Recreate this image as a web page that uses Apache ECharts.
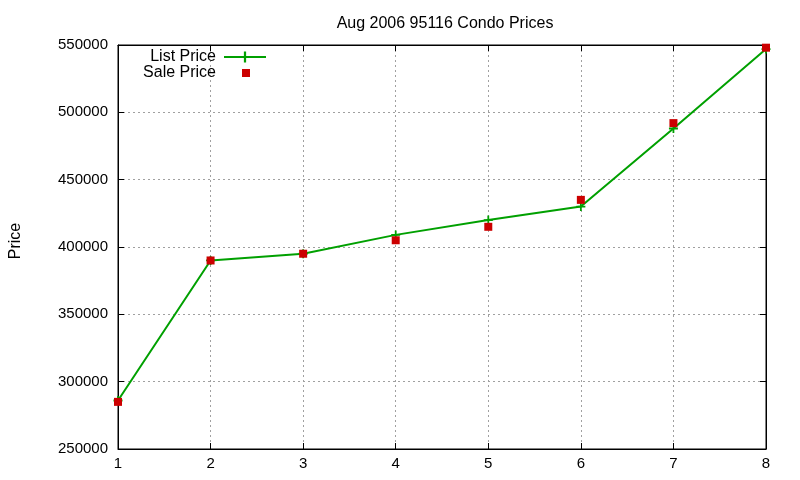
<!DOCTYPE html>
<html>
<head>
<meta charset="utf-8">
<script src="https://cdn.jsdelivr.net/npm/echarts@6/dist/echarts.min.js"></script>
<style>
html, body { margin: 0; padding: 0; background: #fff; }
#chart { width: 800px; height: 480px; }
</style>
</head>
<body>
<div id="chart"></div>
<script>
var months = [1, 2, 3, 4, 5, 6, 7, 8];
var listPrice = [286000, 390000, 395000, 409000, 420000, 430000, 488000, 547000];
var salePrice = [285000, 390000, 395000, 405000, 415000, 435000, 492000, 548000];
var yTicks = { min: 250000, max: 550000, step: 50000 };

var font = 'Liberation Sans, Arial, sans-serif';
var green = '#00a000';
var red = '#cc0000';
var plus = 'path://M4,0H6V4H10V6H6V10H4V6H0V4H4Z';

function pairs(xs, ys) {
    return xs.map(function (x, i) { return [x, ys[i]]; });
}

var myChart = echarts.init(document.getElementById('chart'));

var gridLine = { show: true, lineStyle: { color: '#a0a0a0', type: [2, 3], width: 1 } };
var tickIn = { show: true, inside: true, length: 6, lineStyle: { color: '#000' } };

var option = {
    backgroundColor: '#fff',
    animation: false,
    title: {
        text: 'Aug 2006 95116 Condo Prices',
        left: 440,
        top: 11,
        textAlign: 'center',
        textStyle: { fontFamily: font, fontSize: 16, fontWeight: 'normal', color: '#000' }
    },
    legend: [
        {
            data: ['List Price'],
            orient: 'vertical',
            align: 'right',
            right: 533,
            top: 49,
            padding: 0,
            itemWidth: 42,
            itemHeight: 14,
            textStyle: { fontFamily: font, fontSize: 16, color: '#000', padding: [0, 3, 0, 0] }
        },
        {
            data: [{ name: 'Sale Price', icon: 'rect' }],
            orient: 'vertical',
            align: 'right',
            right: 550,
            top: 65,
            padding: 0,
            itemWidth: 8,
            itemHeight: 8,
            textStyle: { fontFamily: font, fontSize: 16, color: '#000', padding: [0, 21, 0, 0] }
        }
    ],
    grid: {
        left: 118,
        right: 34,
        top: 45,
        bottom: 31,
        show: true,
        borderColor: '#000',
        borderWidth: 1,
        containLabel: false,
        outerBoundsMode: 'none'
    },
    xAxis: [
        {
            type: 'value',
            min: months[0],
            max: months[months.length - 1],
            interval: 1,
            axisLine: { show: true, lineStyle: { color: '#000' } },
            axisTick: tickIn,
            axisLabel: { margin: 7, fontFamily: font, fontSize: 15, color: '#000' },
            splitLine: gridLine
        },
        {
            type: 'value',
            position: 'top',
            min: months[0],
            max: months[months.length - 1],
            interval: 1,
            axisLine: { show: true, lineStyle: { color: '#000' } },
            axisTick: tickIn,
            axisLabel: { show: false },
            splitLine: { show: false }
        }
    ],
    yAxis: [
        {
            type: 'value',
            min: yTicks.min,
            max: yTicks.max,
            interval: yTicks.step,
            name: 'Price',
            nameLocation: 'middle',
            nameGap: 94,
            nameRotate: 90,
            nameTextStyle: { fontFamily: font, fontSize: 16, color: '#000', padding: [0, 0, 0, 12] },
            axisLine: { show: true, lineStyle: { color: '#000' } },
            axisTick: tickIn,
            axisLabel: {
                margin: 10, fontFamily: font, fontSize: 15, color: '#000',
                formatter: function (v) { return String(v); }
            },
            splitLine: gridLine
        },
        {
            type: 'value',
            position: 'right',
            min: yTicks.min,
            max: yTicks.max,
            interval: yTicks.step,
            axisLine: { show: true, lineStyle: { color: '#000' } },
            axisTick: tickIn,
            axisLabel: { show: false },
            splitLine: { show: false }
        }
    ],
    series: [
        {
            name: 'List Price',
            type: 'line',
            xAxisIndex: 0,
            yAxisIndex: 0,
            data: pairs(months, listPrice),
            color: green,
            symbol: plus,
            symbolSize: 9,
            showSymbol: true,
            lineStyle: { width: 2, color: green },
            itemStyle: { color: green, opacity: 1 },
            z: 2
        },
        {
            name: 'Sale Price',
            type: 'scatter',
            xAxisIndex: 0,
            yAxisIndex: 0,
            data: pairs(months, salePrice),
            color: red,
            symbol: 'rect',
            symbolSize: 8,
            itemStyle: { color: red, opacity: 1 },
            z: 3
        }
    ]
};

myChart.setOption(option);
</script>
</body>
</html>
